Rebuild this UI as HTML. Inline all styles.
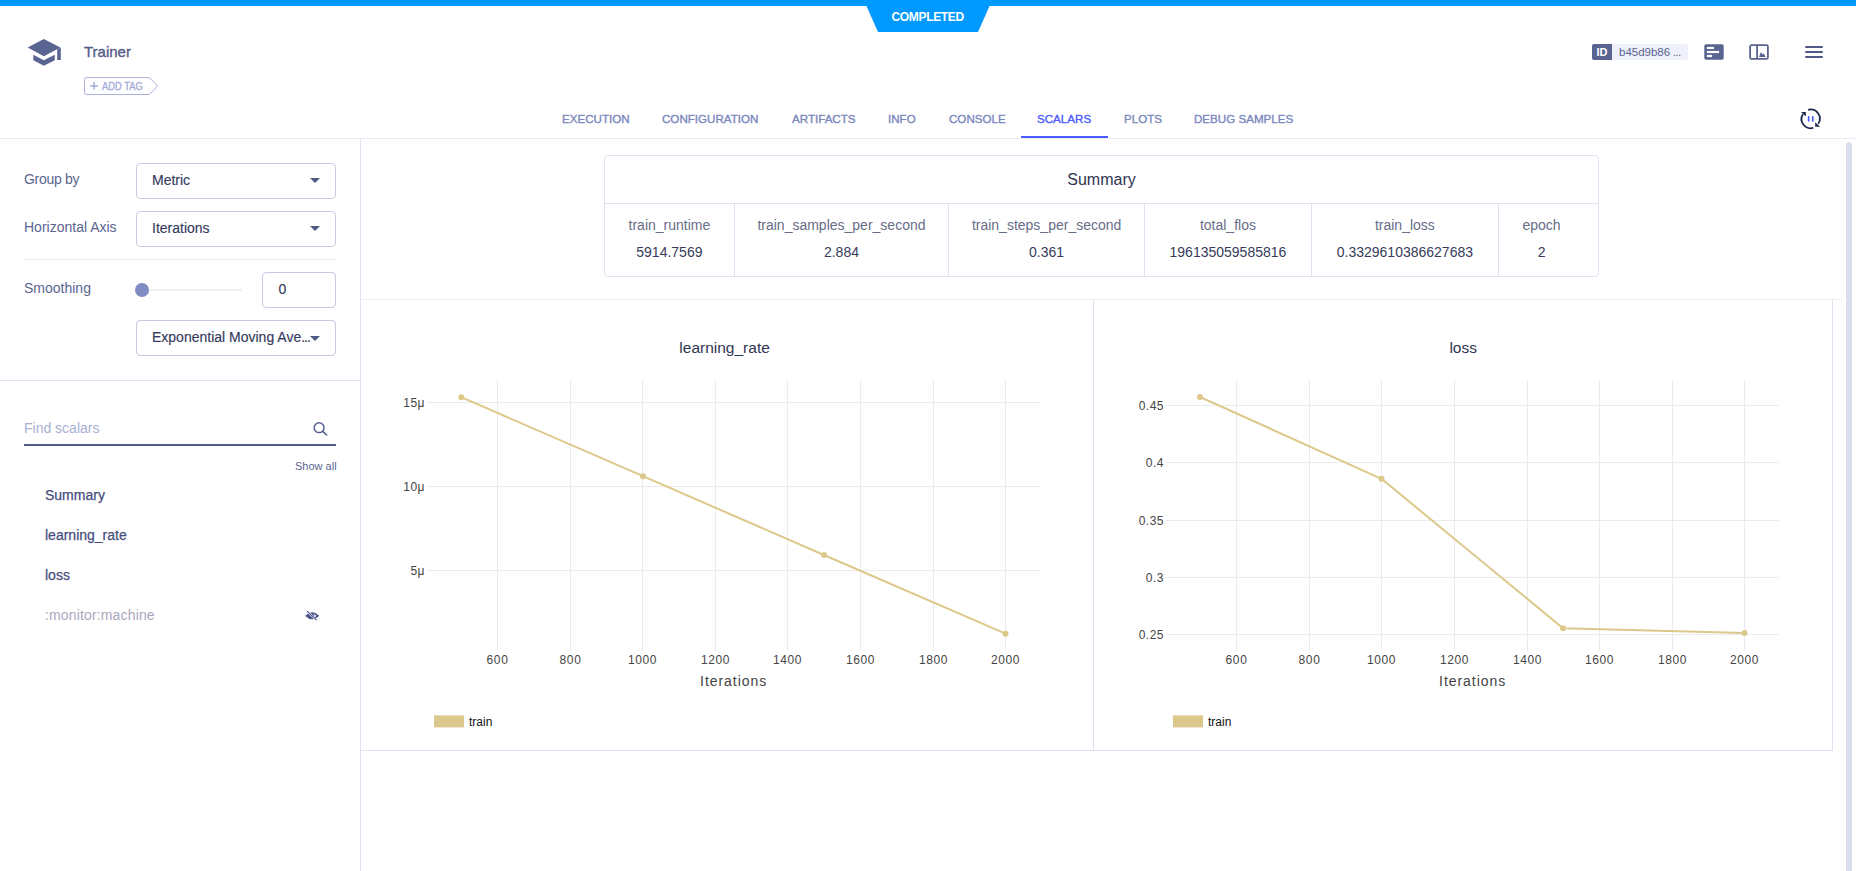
<!DOCTYPE html>
<html><head><meta charset="utf-8">
<style>
*{box-sizing:border-box;margin:0;padding:0}
html,body{width:1856px;height:871px;overflow:hidden;background:#fff;font-family:"Liberation Sans",sans-serif;position:relative}
.a{position:absolute;white-space:pre;line-height:1}
.topbar{position:absolute;left:0;top:0;width:1856px;height:6px;background:#0099ff}
.tab{position:absolute;top:112.6px;font-size:11.6px;color:#7a87bd;letter-spacing:0;line-height:1;-webkit-text-stroke:0.35px currentColor}
.dd{position:absolute;left:136px;width:200px;height:36px;border:1px solid #c8cce2;border-radius:4px}
.dd .t{position:absolute;left:15px;font-size:14px;color:#343b5c;line-height:1;-webkit-text-stroke:0.15px currentColor}
.dd .car{position:absolute;left:173px;top:16px;width:0;height:0;border-left:5px solid transparent;border-right:5px solid transparent;border-top:5px solid #4f5a86}
.lbl{position:absolute;left:24px;font-size:14px;color:#5b6590;line-height:1}
.side-item{position:absolute;left:45px;font-size:14px;color:#454e7e;line-height:1;-webkit-text-stroke:0.25px #454e7e}
</style></head><body>
<div class="topbar"></div>
<!-- COMPLETED trapezoid -->
<svg style="position:absolute;left:0;top:0" width="1856" height="40">
<polygon points="866,5 990,5 978,32 878,32" fill="#0099ff"/>
</svg>
<div class="a" style="left:891.5px;top:10.9px;font-size:12px;letter-spacing:-0.33px;font-weight:700;color:#fff">COMPLETED</div>

<!-- header left -->
<svg style="position:absolute;left:0;top:0" width="80" height="80">
<polygon points="27.7,47.4 43.8,38.9 60.4,47.4 43.8,56.3" fill="#5a6490"/>
<polygon points="57.2,49.2 60.8,47.4 60.8,60 57.2,60" fill="#5a6490"/>
<polygon points="33.3,54.7 43.8,60.3 54.8,54.7 54.8,60.3 43.8,65.8 33.3,60.3" fill="#5a6490"/>
</svg>
<div class="a" style="left:84px;top:44px;font-size:15px;color:#535d88;-webkit-text-stroke:0.35px #535d88">Trainer</div>


<!-- add tag -->
<svg style="position:absolute;left:0;top:0" width="170" height="100">
<path d="M86.3,77.6 L149.3,77.6 L157.6,86 L149.3,94.5 L86.3,94.5 Q84.5,94.5 84.5,92.7 L84.5,79.4 Q84.5,77.6 86.3,77.6 Z" fill="none" stroke="#a9b0dc" stroke-width="1"/>
</svg>
<svg style="position:absolute;left:88px;top:80px" width="12" height="12"><rect x="5.35" y="2.1" width="1.5" height="7.6" fill="#a4acd8"/><rect x="2.3" y="5.15" width="7.6" height="1.5" fill="#a4acd8"/></svg><div class="a" style="left:102px;top:81px;font-size:11.2px;color:#a4acd8;transform:scaleX(0.835);transform-origin:0 0;-webkit-text-stroke:0.35px currentColor">ADD TAG</div>

<!-- id badge -->
<div style="position:absolute;left:1592px;top:44px;width:96px;height:16px;background:#eef1fa;border-radius:2px"></div>
<div style="position:absolute;left:1592px;top:44px;width:20px;height:16px;background:#5a6490;border-radius:2px 0 0 2px"></div>
<div class="a" style="left:1596.5px;top:47px;font-size:11px;font-weight:700;color:#fff">ID</div>
<div class="a" style="left:1619px;top:47.2px;font-size:11.5px;color:#5a6490">b45d9b86<span style="letter-spacing:-0.6px"> ...</span></div>

<svg style="position:absolute;left:1700px;top:40px" width="130" height="26">
<rect x="4.3" y="4.3" width="19.4" height="15.4" rx="1.8" fill="#5a6490"/>
<rect x="6.9" y="6.9" width="7.1" height="2.1" fill="#fff"/>
<rect x="6.9" y="10.9" width="12.2" height="2.2" fill="#fff"/>
<rect x="6.9" y="14.9" width="5.2" height="2.2" fill="#fff"/>
<rect x="50.1" y="5.2" width="17.8" height="13.6" rx="1.4" fill="none" stroke="#5a6490" stroke-width="1.8"/>
<rect x="56.2" y="5" width="1.8" height="14" fill="#5a6490"/>
<polygon points="59,16.9 60.9,11.9 62.6,14.5 63.6,13.3 65.8,16.9" fill="#5a6490"/>
<rect x="105" y="6" width="18" height="2" rx="1" fill="#4f5a86"/>
<rect x="105" y="11" width="18" height="2" rx="1" fill="#4f5a86"/>
<rect x="105" y="16" width="18" height="2" rx="1" fill="#4f5a86"/>
</svg>

<!-- tabs -->
<div class="tab" style="left:562px">EXECUTION</div>
<div class="tab" style="left:662px">CONFIGURATION</div>
<div class="tab" style="left:792px">ARTIFACTS</div>
<div class="tab" style="left:888px">INFO</div>
<div class="tab" style="left:949px">CONSOLE</div>
<div class="tab" style="left:1037px;color:#4a5bff">SCALARS</div>
<div class="tab" style="left:1124px">PLOTS</div>
<div class="tab" style="left:1194px">DEBUG SAMPLES</div>
<div style="position:absolute;left:0;top:138px;width:1856px;height:1px;background:#e8e9ee"></div>
<div style="position:absolute;left:1021px;top:136px;width:87px;height:2px;background:#4a5bff"></div>

<!-- refresh icon -->
<svg style="position:absolute;left:1795px;top:104px" width="32" height="30">
<path d="M13,5.9 A9.2,9.2 0 0 1 23.3,19.8" fill="none" stroke="#1f2a4f" stroke-width="1.8"/>
<path d="M18.2,23.9 A9.2,9.2 0 0 1 7.9,10.2" fill="none" stroke="#1f2a4f" stroke-width="1.8"/>
<polygon points="6,8 10.8,8 10.8,12.6" fill="#1f2a4f"/>
<polygon points="20.2,18.2 20.2,22.8 25.1,22.8" fill="#1f2a4f"/>
<rect x="12.8" y="12" width="1.7" height="5.8" rx="0.8" fill="#4a5bff"/>
<rect x="16.9" y="12" width="1.7" height="5.8" rx="0.8" fill="#4a5bff"/>
</svg>

<!-- sidebar -->
<div style="position:absolute;left:360px;top:139px;width:1px;height:732px;background:#dfe2f0"></div>
<div style="position:absolute;left:0;top:380px;width:360px;height:1px;background:#dfe2f0"></div>
<div class="lbl" style="top:172.2px;letter-spacing:-0.3px">Group by</div>
<div class="lbl" style="top:220px">Horizontal Axis</div>
<div class="lbl" style="top:281.1px">Smoothing</div>
<div class="dd" style="top:163px;height:36px"><div class="t" style="top:8.8px">Metric</div><div class="car" style="top:14.3px"></div></div>
<div class="dd" style="top:211px;height:36px"><div class="t" style="top:9px">Iterations</div><div class="car" style="top:14.2px"></div></div>
<div style="position:absolute;left:24px;top:259px;width:312px;height:1px;background:#e8eaf2"></div>
<div style="position:absolute;left:142px;top:289px;width:100px;height:2px;background:#eef0f6"></div>
<div style="position:absolute;left:135px;top:283px;width:14px;height:14px;border-radius:50%;background:#7f8bc3"></div>
<div class="dd" style="left:262px;top:272px;width:74px;height:36px"><div class="t" style="left:15.5px;top:8.5px">0</div></div>
<div class="dd" style="top:320px;height:36px;overflow:hidden"><div class="t" style="top:9.3px">Exponential Moving Ave<span style="letter-spacing:-1px">...</span></div><div class="car" style="top:15.2px"></div></div>

<div class="a" style="left:24px;top:421.1px;font-size:14px;color:#a9b0d5">Find scalars</div>
<div style="position:absolute;left:24px;top:444px;width:312px;height:2px;background:#4f5a86"></div>
<svg style="position:absolute;left:310px;top:419px" width="20" height="20">
<circle cx="9.1" cy="8.7" r="4.9" fill="none" stroke="#55608f" stroke-width="1.5"/>
<line x1="12.7" y1="12.3" x2="16.6" y2="16" stroke="#55608f" stroke-width="1.6" stroke-linecap="round"/>
</svg>
<div class="a" style="left:295px;top:461.1px;font-size:11px;color:#5b6590">Show all</div>
<div class="side-item" style="top:487.6px">Summary</div>
<div class="side-item" style="top:528px">learning_rate</div>
<div class="side-item" style="top:568.2px">loss</div>
<div class="a" style="left:45px;top:608.4px;font-size:14px;color:#a7aabd;letter-spacing:0.15px">:monitor:machine</div>
<svg style="position:absolute;left:300px;top:604px" width="26" height="22">
<g transform="translate(12.2,11.8) scale(0.88) translate(-12.2,-11.6)">
<path d="M5.8,11.6 Q12,5.6 18.6,11.6 Q12,17.6 5.8,11.6 Z" fill="none" stroke="#48528a" stroke-width="2"/>
<circle cx="12.2" cy="11.6" r="2.4" fill="#48528a"/>
<path d="M5.8,11.6 Q7.5,9.5 9,9 L12,13 Q9.5,15.5 5.8,11.6 Z" fill="#48528a"/>
<line x1="5" y1="5" x2="18.5" y2="17.8" stroke="#fff" stroke-width="2.6"/>
<line x1="6.3" y1="6.2" x2="17.3" y2="16.6" stroke="#48528a" stroke-width="1.3"/>
</g>
</svg>

<!-- summary table -->
<div style="position:absolute;left:604px;top:155px;width:995px;height:122px;border:1px solid #dfe2f0;border-radius:4px"></div>
<div style="position:absolute;left:605px;top:203px;width:993px;height:1px;background:#dfe2f0"></div>
<div style="position:absolute;left:734px;top:204px;width:1px;height:72px;background:#dfe2f0"></div>
<div style="position:absolute;left:948px;top:204px;width:1px;height:72px;background:#dfe2f0"></div>
<div style="position:absolute;left:1144px;top:204px;width:1px;height:72px;background:#dfe2f0"></div>
<div style="position:absolute;left:1311px;top:204px;width:1px;height:72px;background:#dfe2f0"></div>
<div style="position:absolute;left:1498px;top:204px;width:1px;height:72px;background:#dfe2f0"></div>
<div class="a" style="left:604px;width:995px;text-align:center;top:172px;font-size:16px;color:#2f3552">Summary</div>
<div class="a" style="left:604.5px;width:129.79999999999995px;text-align:center;top:218.4px;font-size:14px;color:#676d88">train_runtime</div>
<div class="a" style="left:604.5px;width:129.79999999999995px;text-align:center;top:245.3px;font-size:14px;color:#363c5a">5914.7569</div>
<div class="a" style="left:734.3px;width:214.30000000000007px;text-align:center;top:218.4px;font-size:14px;color:#676d88">train_samples_per_second</div>
<div class="a" style="left:734.3px;width:214.30000000000007px;text-align:center;top:245.3px;font-size:14px;color:#363c5a">2.884</div>
<div class="a" style="left:948.6px;width:195.9999999999999px;text-align:center;top:218.4px;font-size:14px;color:#676d88">train_steps_per_second</div>
<div class="a" style="left:948.6px;width:195.9999999999999px;text-align:center;top:245.3px;font-size:14px;color:#363c5a">0.361</div>
<div class="a" style="left:1144.6px;width:166.70000000000005px;text-align:center;top:218.4px;font-size:14px;color:#676d88">total_flos</div>
<div class="a" style="left:1144.6px;width:166.70000000000005px;text-align:center;top:245.3px;font-size:14px;color:#363c5a">196135059585816</div>
<div class="a" style="left:1311.3px;width:187.20000000000005px;text-align:center;top:218.4px;font-size:14px;color:#676d88">train_loss</div>
<div class="a" style="left:1311.3px;width:187.20000000000005px;text-align:center;top:245.3px;font-size:14px;color:#363c5a">0.3329610386627683</div>
<div class="a" style="left:1491.6px;width:100.0px;text-align:center;top:218.4px;font-size:14px;color:#676d88">epoch</div>
<div class="a" style="left:1491.6px;width:100.0px;text-align:center;top:245.3px;font-size:14px;color:#363c5a">2</div>

<!-- panels -->
<div style="position:absolute;left:361px;top:299px;width:1481px;height:1px;background:#efefef"></div>
<div style="position:absolute;left:1093px;top:300px;width:1px;height:450px;background:#dfe2f0"></div>
<div style="position:absolute;left:1832px;top:300px;width:1px;height:450px;background:#dfe2f0"></div>
<div style="position:absolute;left:361px;top:750px;width:1472px;height:1px;background:#dfe2f0"></div>
<!-- scrollbar -->
<div style="position:absolute;left:1846px;top:142px;width:6px;height:740px;background:#dadeee;border-radius:3px"></div>
<!-- charts -->
<svg style="position:absolute;left:0;top:0" width="1856" height="871" font-family="Liberation Sans">
<rect x="497" y="380" width="1" height="271" fill="#ebebeb"/>
<rect x="570" y="380" width="1" height="271" fill="#ebebeb"/>
<rect x="642" y="380" width="1" height="271" fill="#ebebeb"/>
<rect x="715" y="380" width="1" height="271" fill="#ebebeb"/>
<rect x="787" y="380" width="1" height="271" fill="#ebebeb"/>
<rect x="860" y="380" width="1" height="271" fill="#ebebeb"/>
<rect x="933" y="380" width="1" height="271" fill="#ebebeb"/>
<rect x="1005" y="380" width="1" height="271" fill="#ebebeb"/>
<rect x="427" y="402" width="613" height="1" fill="#ebebeb"/>
<rect x="427" y="486" width="613" height="1" fill="#ebebeb"/>
<rect x="427" y="570" width="613" height="1" fill="#ebebeb"/>
<text x="497.5" y="663.8" font-size="12" letter-spacing="0.6" text-anchor="middle" fill="#444">600</text>
<text x="570.5" y="663.8" font-size="12" letter-spacing="0.6" text-anchor="middle" fill="#444">800</text>
<text x="642.5" y="663.8" font-size="12" letter-spacing="0.6" text-anchor="middle" fill="#444">1000</text>
<text x="715.5" y="663.8" font-size="12" letter-spacing="0.6" text-anchor="middle" fill="#444">1200</text>
<text x="787.5" y="663.8" font-size="12" letter-spacing="0.6" text-anchor="middle" fill="#444">1400</text>
<text x="860.5" y="663.8" font-size="12" letter-spacing="0.6" text-anchor="middle" fill="#444">1600</text>
<text x="933.5" y="663.8" font-size="12" letter-spacing="0.6" text-anchor="middle" fill="#444">1800</text>
<text x="1005.5" y="663.8" font-size="12" letter-spacing="0.6" text-anchor="middle" fill="#444">2000</text>
<text x="425" y="406.8" font-size="12" letter-spacing="0.5" text-anchor="end" fill="#444">15μ</text>
<text x="425" y="490.8" font-size="12" letter-spacing="0.5" text-anchor="end" fill="#444">10μ</text>
<text x="425" y="574.8" font-size="12" letter-spacing="0.5" text-anchor="end" fill="#444">5μ</text>
<polyline points="461.3,397.2 643,476.2 824,555 1005.5,633.7" fill="none" stroke="#dcc88a" stroke-width="2" stroke-linejoin="round"/>
<circle cx="461.3" cy="397.2" r="3" fill="#dcc88a"/>
<circle cx="643" cy="476.2" r="3" fill="#dcc88a"/>
<circle cx="824" cy="555" r="3" fill="#dcc88a"/>
<circle cx="1005.5" cy="633.7" r="3" fill="#dcc88a"/>
<text x="724.6" y="352.8" font-size="15.5" text-anchor="middle" fill="#2f3552">learning_rate</text>
<text x="733.6" y="686.1" font-size="14" letter-spacing="0.95" text-anchor="middle" fill="#444">Iterations</text>
<rect x="434" y="715.4" width="30" height="12" fill="#dbc88c"/>
<text x="469" y="725.9" font-size="12" fill="#111">train</text>
<rect x="1236" y="380" width="1" height="271" fill="#ebebeb"/>
<rect x="1309" y="380" width="1" height="271" fill="#ebebeb"/>
<rect x="1381" y="380" width="1" height="271" fill="#ebebeb"/>
<rect x="1454" y="380" width="1" height="271" fill="#ebebeb"/>
<rect x="1527" y="380" width="1" height="271" fill="#ebebeb"/>
<rect x="1599" y="380" width="1" height="271" fill="#ebebeb"/>
<rect x="1672" y="380" width="1" height="271" fill="#ebebeb"/>
<rect x="1744" y="380" width="1" height="271" fill="#ebebeb"/>
<rect x="1166" y="405" width="613" height="1" fill="#ebebeb"/>
<rect x="1166" y="462" width="613" height="1" fill="#ebebeb"/>
<rect x="1166" y="520" width="613" height="1" fill="#ebebeb"/>
<rect x="1166" y="577" width="613" height="1" fill="#ebebeb"/>
<rect x="1166" y="634" width="613" height="1" fill="#ebebeb"/>
<text x="1236.5" y="663.8" font-size="12" letter-spacing="0.6" text-anchor="middle" fill="#444">600</text>
<text x="1309.5" y="663.8" font-size="12" letter-spacing="0.6" text-anchor="middle" fill="#444">800</text>
<text x="1381.5" y="663.8" font-size="12" letter-spacing="0.6" text-anchor="middle" fill="#444">1000</text>
<text x="1454.5" y="663.8" font-size="12" letter-spacing="0.6" text-anchor="middle" fill="#444">1200</text>
<text x="1527.5" y="663.8" font-size="12" letter-spacing="0.6" text-anchor="middle" fill="#444">1400</text>
<text x="1599.5" y="663.8" font-size="12" letter-spacing="0.6" text-anchor="middle" fill="#444">1600</text>
<text x="1672.5" y="663.8" font-size="12" letter-spacing="0.6" text-anchor="middle" fill="#444">1800</text>
<text x="1744.5" y="663.8" font-size="12" letter-spacing="0.6" text-anchor="middle" fill="#444">2000</text>
<text x="1164" y="409.8" font-size="12" letter-spacing="0.5" text-anchor="end" fill="#444">0.45</text>
<text x="1164" y="466.8" font-size="12" letter-spacing="0.5" text-anchor="end" fill="#444">0.4</text>
<text x="1164" y="524.8" font-size="12" letter-spacing="0.5" text-anchor="end" fill="#444">0.35</text>
<text x="1164" y="581.8" font-size="12" letter-spacing="0.5" text-anchor="end" fill="#444">0.3</text>
<text x="1164" y="638.8" font-size="12" letter-spacing="0.5" text-anchor="end" fill="#444">0.25</text>
<polyline points="1200,397 1381.5,478.8 1563,628.2 1744.5,633" fill="none" stroke="#dcc88a" stroke-width="2" stroke-linejoin="round"/>
<circle cx="1200" cy="397" r="3" fill="#dcc88a"/>
<circle cx="1381.5" cy="478.8" r="3" fill="#dcc88a"/>
<circle cx="1563" cy="628.2" r="3" fill="#dcc88a"/>
<circle cx="1744.5" cy="633" r="3" fill="#dcc88a"/>
<text x="1463.2" y="352.8" font-size="15.5" text-anchor="middle" fill="#2f3552">loss</text>
<text x="1472.6" y="686.1" font-size="14" letter-spacing="0.95" text-anchor="middle" fill="#444">Iterations</text>
<rect x="1173" y="715.4" width="30" height="12" fill="#dbc88c"/>
<text x="1208" y="725.9" font-size="12" fill="#111">train</text>
</svg>
</body></html>
